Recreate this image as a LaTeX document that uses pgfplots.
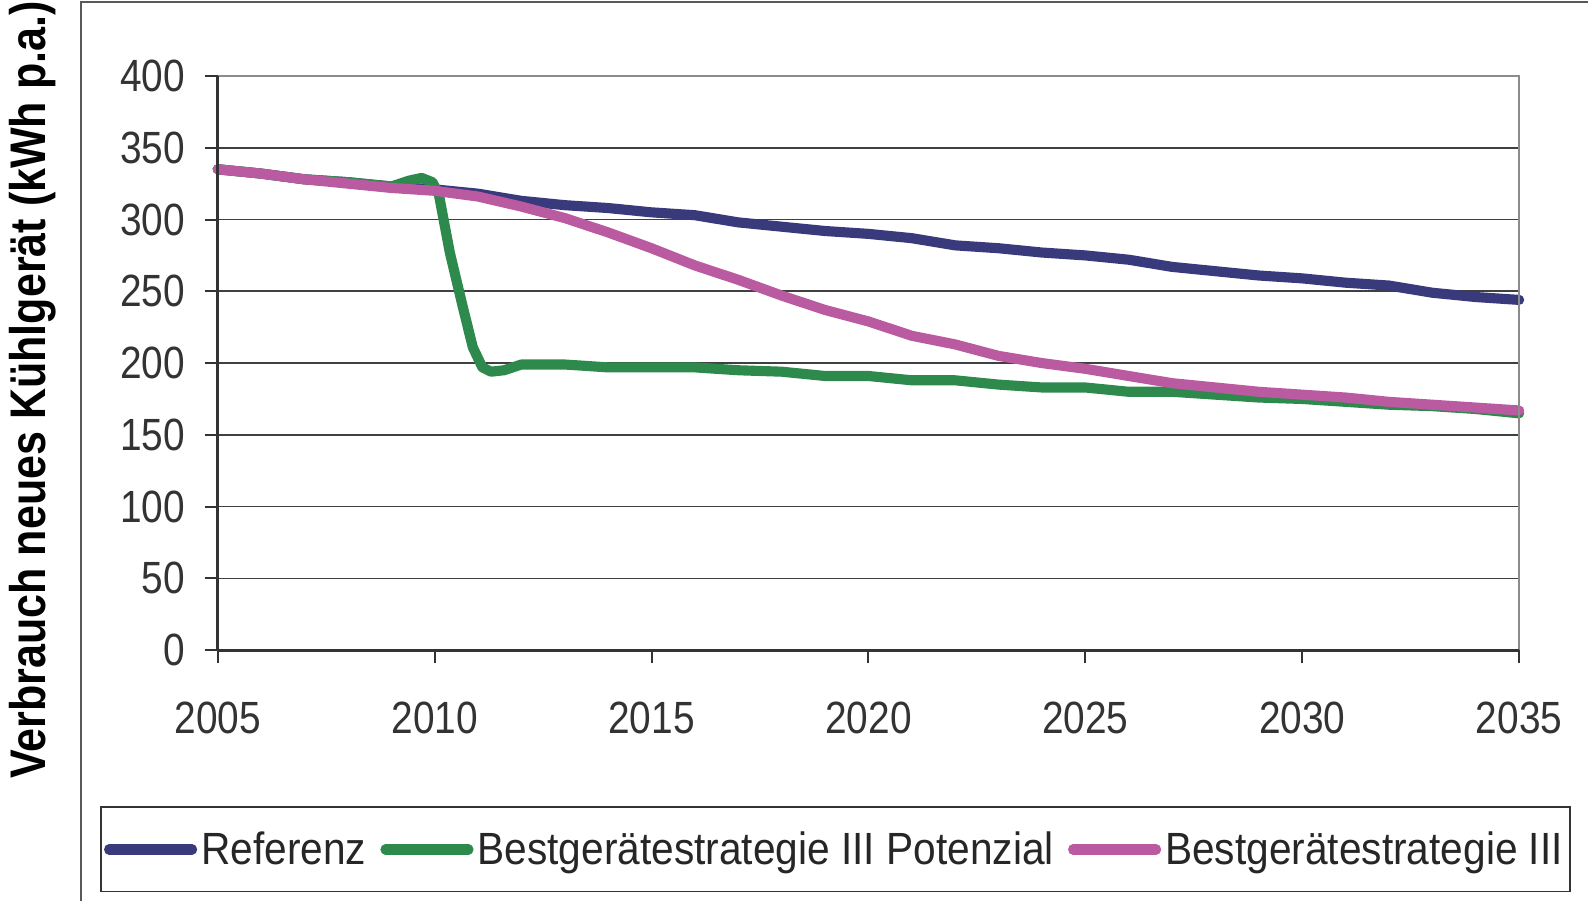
\documentclass[border=0pt]{standalone}
\usepackage{pgfplots}
\pgfplotsset{compat=1.18}
\usepackage{fontspec}
\setmainfont{Liberation Sans}[FakeStretch=0.86]
\newfontfamily\legfont{Liberation Sans}[FakeStretch=0.9]
\definecolor{cRef}{HTML}{383A7C}
\definecolor{cPot}{HTML}{2E8A4C}
\definecolor{cBest}{HTML}{BA5BA2}
\begin{document}
\begin{tikzpicture}
\path[use as bounding box] (0,0) rectangle (784pt,445pt);
\draw[color=black!65, line width=1pt] (40pt,0) -- (40pt,444pt) -- (790pt,444pt);
\node[rotate=90, font=\bfseries\fontsize{24.7}{28}\selectfont] at (16pt,252.5pt) {Verbrauch neues Kühlgerät (kWh p.a.)};
\begin{axis}[
  at={(107.5pt,124pt)}, anchor=south west, scale only axis,
  width=642.5pt, height=283.5pt,
  xmin=2005, xmax=2035, ymin=0, ymax=400,
  xtick={2005,2010,...,2035}, ytick={0,50,...,400},
  tick pos=left, tick align=outside, major tick length=6.5pt,
  tick style={black!80, line width=1pt},
  axis line style={draw=none},
  ymajorgrids, grid style={draw=black!75, line width=0.8pt},
  /pgf/number format/.cd, 1000 sep={}, assume math mode=true, /pgfplots/.cd,
  ticklabel style={font=\fontsize{22.3}{26}\selectfont, text=black!80},
  yticklabel style={inner sep=0pt, anchor=east, xshift=-9.5pt},
  xticklabel style={inner sep=0pt, anchor=north, yshift=-19pt},
  legend columns=3,
  legend style={at={(0.4747,-0.347)}, anchor=center, draw=black!80, line width=0.8pt,
    font=\legfont\fontsize{22.3}{26}\selectfont, text=black!85, inner xsep=1.5pt, inner ysep=10pt,
    /tikz/every even column/.append style={column sep=5pt}},
  legend image code/.code={\draw[#1, line width=5pt, line cap=round] (0pt,0pt) -- (41pt,0pt);},
  every axis plot/.append style={line width=5pt, line join=round, line cap=round},
  clip=false,
]
\addplot[cRef] coordinates {
(2005,335) (2006,332) (2007,328) (2008,326) (2009,323) (2010,321) (2011,318) (2012,313)
(2013,310) (2014,308) (2015,305) (2016,303) (2017,298) (2018,295) (2019,292) (2020,290)
(2021,287) (2022,282) (2023,280) (2024,277) (2025,275) (2026,272) (2027,267) (2028,264)
(2029,261) (2030,259) (2031,256) (2032,254) (2033,249) (2034,246) (2035,244)};
\addlegendentry{Referenz}
\addplot[cPot] coordinates {
(2005,335) (2006,332) (2007,328) (2008,326) (2009,323) (2009.4,327) (2009.7,329) (2009.95,326)
(2010.1,317) (2010.35,277) (2010.65,239) (2010.88,211) (2011.1,197) (2011.3,194) (2011.6,195)
(2012,199) (2013,199) (2014,197) (2015,197) (2016,197) (2017,195) (2018,194) (2019,191)
(2020,191) (2021,188) (2022,188) (2023,185) (2024,183) (2025,183) (2026,180) (2027,180)
(2028,178) (2029,176) (2030,175) (2031,173) (2032,171) (2033,170) (2034,168) (2035,165)};
\addlegendentry{Bestgerätestrategie III Potenzial}
\addplot[cBest] coordinates {
(2005,335) (2006,332) (2007,328) (2008,325) (2009,322) (2010,320) (2011,316) (2012,309)
(2013,301) (2014,291) (2015,280) (2016,268) (2017,258) (2018,247) (2019,237) (2020,229)
(2021,219) (2022,213) (2023,205) (2024,200) (2025,196) (2026,191) (2027,186) (2028,183)
(2029,180) (2030,178) (2031,176) (2032,173) (2033,171) (2034,169) (2035,167)};
\addlegendentry{Bestgerätestrategie III}
\draw[black!45, line width=1.2pt] (rel axis cs:0,1) -- (rel axis cs:1,1) -- (rel axis cs:1,0);
\draw[black!80, line width=1.3pt] (rel axis cs:0,1) -- (rel axis cs:0,0);
\draw[black!80, line width=1.6pt] (rel axis cs:0,0) -- (rel axis cs:1,0);
\end{axis}
\end{tikzpicture}
\end{document}
